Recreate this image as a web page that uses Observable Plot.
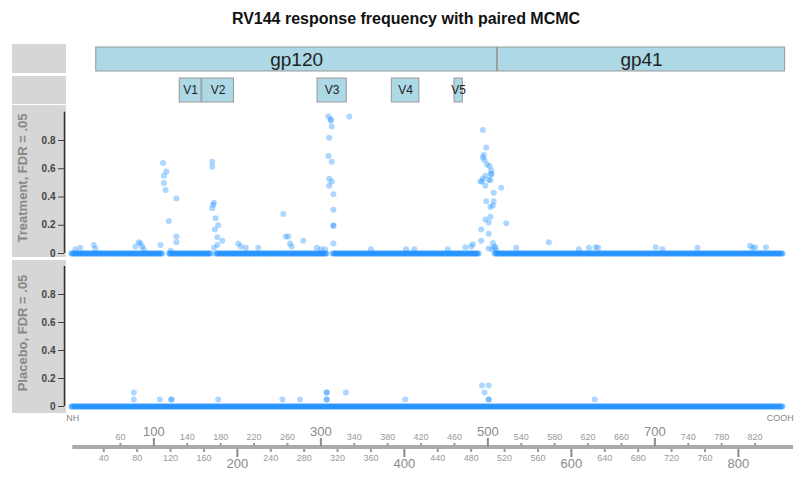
<!DOCTYPE html>
<html><head><meta charset="utf-8">
<script src="https://cdn.jsdelivr.net/npm/d3@7"></script>
<script src="https://cdn.jsdelivr.net/npm/@observablehq/plot@0.6"></script>
<style>
body{margin:0;background:#fff;font-family:"Liberation Sans",Arial,sans-serif;}
#wrap{position:relative;width:800px;height:481px;overflow:hidden;background:#fff;}
.gray{position:absolute;background:#d6d6d6;}
.title{position:absolute;left:406px;top:10px;transform:translateX(-50%);white-space:nowrap;font-weight:bold;font-size:16px;color:#111;}
.plab{position:absolute;left:22px;transform:translate(-50%,-50%) rotate(-90deg);white-space:nowrap;font-weight:bold;font-size:13px;color:#888;}
svg{position:absolute;left:0;}
</style></head>
<body><div id="wrap"></div>
<script>
const titleText = "RV144 response frequency with paired MCMC";
const xDomain = [-7, 866];

const regionNames = ["gp120", "gp41"];
const regionStart = [31, 512];
const regionEnd = [511, 856];

const loopNames = ["V1", "V2", "V3", "V4", "V5"];
const loopStart = [131, 158, 296, 385, 460];
const loopEnd = [157, 196, 331, 418, 470];

const panelNames = ["Treatment, FDR = .05", "Placebo, FDR = .05"];
const yTicks = [0, 0.2, 0.4, 0.6, 0.8];

// positions where the response is at zero (start, end)
const treatBaseline = [[1, 110], [118, 168], [174, 307], [314, 489], [508, 853]];
const treatPos = [6, 12, 28, 30, 78, 82, 84, 86, 88, 108,
  111, 112, 115, 112, 114, 127, 118, 127, 127, 120,
  170, 170, 172, 171, 170, 174, 177, 173, 176, 182, 176, 172,
  201, 204, 210, 225, 255, 258, 261, 263, 265, 279,
  295, 300, 305, 309, 312, 312, 313, 310, 309, 313, 310, 313, 310, 315, 315, 315, 315, 315, 334,
  360, 402, 412, 452, 473, 480, 482,
  494, 498, 495, 494, 496, 499, 502, 504, 504, 504, 497, 494, 501, 491, 493, 503, 497, 516, 507, 498, 507, 503, 506, 503, 497, 501, 522, 492, 501, 492, 506, 508, 501, 509, 505, 510,
  534, 573, 609, 621, 629, 632, 701, 709, 751, 814, 817, 820, 833];
const treatVal = [0.03, 0.04, 0.06, 0.035, 0.05, 0.08, 0.07, 0.05, 0.03, 0.06,
  0.64, 0.55, 0.58, 0.50, 0.45, 0.39, 0.23, 0.12, 0.08, 0.02,
  0.65, 0.615, 0.36, 0.345, 0.32, 0.25, 0.20, 0.17, 0.115, 0.09, 0.06, 0.04,
  0.07, 0.05, 0.04, 0.04, 0.28, 0.12, 0.12, 0.07, 0.05, 0.09,
  0.04, 0.03, 0.03, 0.97, 0.95, 0.94, 0.90, 0.82, 0.69, 0.65, 0.53, 0.51, 0.48, 0.42, 0.31, 0.20, 0.195, 0.07, 0.97,
  0.03, 0.03, 0.03, 0.03, 0.045, 0.05, 0.065,
  0.875, 0.75, 0.70, 0.68, 0.66, 0.63, 0.62, 0.59, 0.565, 0.56, 0.55, 0.53, 0.52, 0.51, 0.51, 0.52, 0.48, 0.465, 0.43, 0.37, 0.37, 0.33, 0.34, 0.26, 0.24, 0.22, 0.215, 0.17, 0.14, 0.09, 0.075, 0.05, 0.035, 0.04, 0.03, 0.02,
  0.04, 0.08, 0.03, 0.04, 0.045, 0.04, 0.045, 0.03, 0.04, 0.055, 0.04, 0.045, 0.045];

const placeboBaseline = [[1, 853]];
const placeboPos = [76, 76, 107, 121, 121, 177, 254, 275, 307, 307, 307, 307, 330, 401, 493, 501, 496, 501, 501, 628];
const placeboVal = [0.1, 0.05, 0.05, 0.05, 0.05, 0.05, 0.05, 0.05, 0.1, 0.1, 0.05, 0.05, 0.1, 0.05, 0.15, 0.15, 0.1, 0.05, 0.05, 0.05];

const rulerExtent = [3, 866];
const rulerUpMajor = [100, 300, 500, 700];
const rulerDownMajor = [200, 400, 600, 800];
const rulerUpMinor = [60, 140, 180, 220, 260, 340, 380, 420, 460, 540, 580, 620, 660, 740, 780, 820];
const rulerDownMinor = [40, 80, 120, 160, 240, 280, 320, 360, 440, 480, 520, 560, 640, 680, 720, 760];
const endLabels = ["NH", "COOH"];
const endPos = [3, 850];

// ---------- build ----------
const wrap = document.getElementById("wrap");
const FONT = "'Liberation Sans', Arial, sans-serif";
const baseStyle = {background: "transparent", fontFamily: FONT, overflow: "visible"};
function place(el, top) { el.style.top = top + "px"; el.style.left = "0px"; el.style.position = "absolute"; wrap.appendChild(el); }
function grayBox(top, h) { const d = document.createElement("div"); d.className = "gray"; d.style.left = "12px"; d.style.width = "54px"; d.style.top = top + "px"; d.style.height = h + "px"; wrap.appendChild(d); }

const t = document.createElement("div"); t.className = "title"; t.textContent = titleText; wrap.appendChild(t);

grayBox(44, 29); grayBox(76, 28); grayBox(105, 152); grayBox(260, 153);

const regions = regionNames.map((n, i) => ({name: n, start: regionStart[i], end: regionEnd[i]}));
const loops = loopNames.map((n, i) => ({name: n, start: loopStart[i], end: loopEnd[i]}));
const common = {width: 800, marginLeft: 64, marginRight: 7, x: {domain: xDomain, axis: null}, style: baseStyle};

function strip(data, height, m, fs) {
  return Plot.plot({...common, height, marginTop: m, marginBottom: m,
    marks: [
      Plot.barX(data, {x1: "start", x2: "end", fill: "#ADD8E6", stroke: "#999", strokeWidth: 1}),
      Plot.text(data, {x: d => (d.start + d.end) / 2, text: "name", fontSize: fs, fill: "#222"})
    ]});
}
place(strip(regions, 30, 3, 19), 44);
place(strip(loops, 28, 2, 12), 76);

function rowsFrom(baseline, pos, val) {
  const rows = [];
  for (const [a, b] of baseline) for (let p = a; p <= b; p++) rows.push({pos: p, value: 0});
  pos.forEach((p, i) => rows.push({pos: p, value: val[i]}));
  return rows;
}
function panel(rows, yDomain, height) {
  return Plot.plot({...common, height, marginTop: 0, marginBottom: 0,
    y: {domain: yDomain},
    marks: [
      Plot.ruleX([{x: xDomain[0], y1: 0, y2: 1}], {x: "x", y1: "y1", y2: "y2", stroke: "#333", strokeWidth: 1.5}),
      Plot.axisY({ticks: yTicks, tickSize: 6, tickPadding: 3, fontSize: 10, fontWeight: "bold", color: "#444", label: null,
        tickFormat: d => d === 0 ? "0" : d3.format(".1f")(d)}),
      Plot.dot(rows, {x: "pos", y: "value", r: 3, fill: "#1E90FF", fillOpacity: 0.36})
    ]});
}
place(panel(rowsFrom(treatBaseline, treatPos, treatVal), [-0.0283, 1.0478], 152), 105);
place(panel(rowsFrom(placeboBaseline, placeboPos, placeboVal), [-0.05, 1.0429], 153), 260);

[[panelNames[0], 178], [panelNames[1], 333]].forEach(([txt, cy]) => {
  const d = document.createElement("div"); d.className = "plab"; d.textContent = txt; d.style.top = cy + "px"; wrap.appendChild(d);
});

const ends = endLabels.map((n, i) => ({name: n, pos: endPos[i]}));
const ax = {label: null, color: "#999", strokeWidth: 2, tickFormat: d => String(d)};
const ruler = Plot.plot({...common, height: 68, marginTop: 32, marginBottom: 32,
  marks: [
    Plot.barX([{a: rulerExtent[0], b: rulerExtent[1]}], {x1: "a", x2: "b", fill: "#aaa"}),
    Plot.axisX({...ax, anchor: "top", ticks: rulerUpMajor, tickSize: 8, tickPadding: 2, fontSize: 13, color: "#8a8a8a"}),
    Plot.axisX({...ax, anchor: "top", ticks: rulerUpMinor, tickSize: 3, tickPadding: 3, fontSize: 9}),
    Plot.axisX({...ax, anchor: "bottom", ticks: rulerDownMajor, tickSize: 8, tickPadding: 1, fontSize: 13, color: "#8a8a8a"}),
    Plot.axisX({...ax, anchor: "bottom", ticks: rulerDownMinor, tickSize: 3, tickPadding: 2, fontSize: 9}),
    Plot.text(ends, {x: "pos", text: "name", frameAnchor: "top", dy: -27, lineAnchor: "middle", fontSize: 9, fill: "#888"})
  ]});
place(ruler, 413);
</script></body></html>
